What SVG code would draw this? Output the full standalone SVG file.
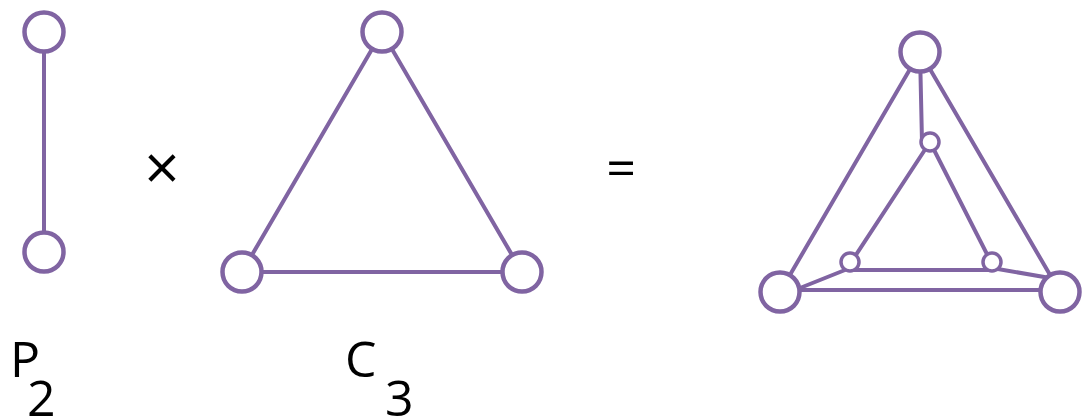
<svg xmlns="http://www.w3.org/2000/svg" width="1084" height="419" viewBox="0 0 1084 419">
<style>
.e{stroke:#8064A2;stroke-width:4;fill:none;stroke-linecap:round}
.n{fill:#fff;stroke:#8064A2;stroke-width:4.5}
.s{fill:#fff;stroke:#8064A2;stroke-width:3.5}
.t{font-family:"Open Sans","Noto Sans",sans-serif;fill:#000}
</style>
<rect width="1084" height="419" fill="#fff"/>
<g id="connectors">
<line class="e" x1="44" y1="32" x2="44" y2="252"/>
<line class="e" x1="382" y1="32" x2="242" y2="272"/>
<line class="e" x1="382" y1="32" x2="522" y2="272"/>
<line class="e" x1="242" y1="272" x2="522" y2="272"/>
<line class="e" x1="920" y1="52" x2="780" y2="292"/>
<line class="e" x1="920" y1="52" x2="1060" y2="292"/>
<line class="e" x1="780" y1="290" x2="1060" y2="290"/>
<line class="e" x1="920" y1="52" x2="922" y2="142"/>
<line class="e" x1="930" y1="142" x2="850" y2="264"/>
<line class="e" x1="930" y1="142" x2="992" y2="264"/>
<line class="e" x1="850" y1="270" x2="992" y2="270"/>
<line class="e" x1="850" y1="268" x2="790" y2="292"/>
<line class="e" x1="992" y1="268" x2="1050" y2="278"/>
</g>
<g id="p2-top"><circle class="n" cx="44" cy="32" r="19.5"/></g>
<g id="p2-bottom"><circle class="n" cx="44" cy="252" r="19.5"/></g>
<g id="c3-top"><circle class="n" cx="382" cy="32" r="19.5"/></g>
<g id="c3-left"><circle class="n" cx="242" cy="272" r="19.5"/></g>
<g id="c3-right"><circle class="n" cx="522" cy="272" r="19.5"/></g>
<g id="prod-outer-top"><circle class="n" cx="920" cy="52" r="19.5"/></g>
<g id="prod-outer-left"><circle class="n" cx="780" cy="292" r="19.5"/></g>
<g id="prod-outer-right"><circle class="n" cx="1060" cy="292" r="19.5"/></g>
<g id="prod-inner-top"><circle class="s" cx="930" cy="142" r="9"/></g>
<g id="prod-inner-left"><circle class="s" cx="850" cy="262" r="9"/></g>
<g id="prod-inner-right"><circle class="s" cx="992" cy="262" r="9"/></g>
<g id="labels">
<text class="t" x="10" y="377" font-size="50">P<tspan x="27" dy="39">2</tspan></text>
<text class="t" x="345" y="377" font-size="50">C<tspan x="385" dy="39">3</tspan></text>
<text class="t" x="162" y="190" font-size="62" text-anchor="middle">×</text>
<text class="t" x="621" y="186" font-size="52" text-anchor="middle">=</text>
</g>
</svg>
